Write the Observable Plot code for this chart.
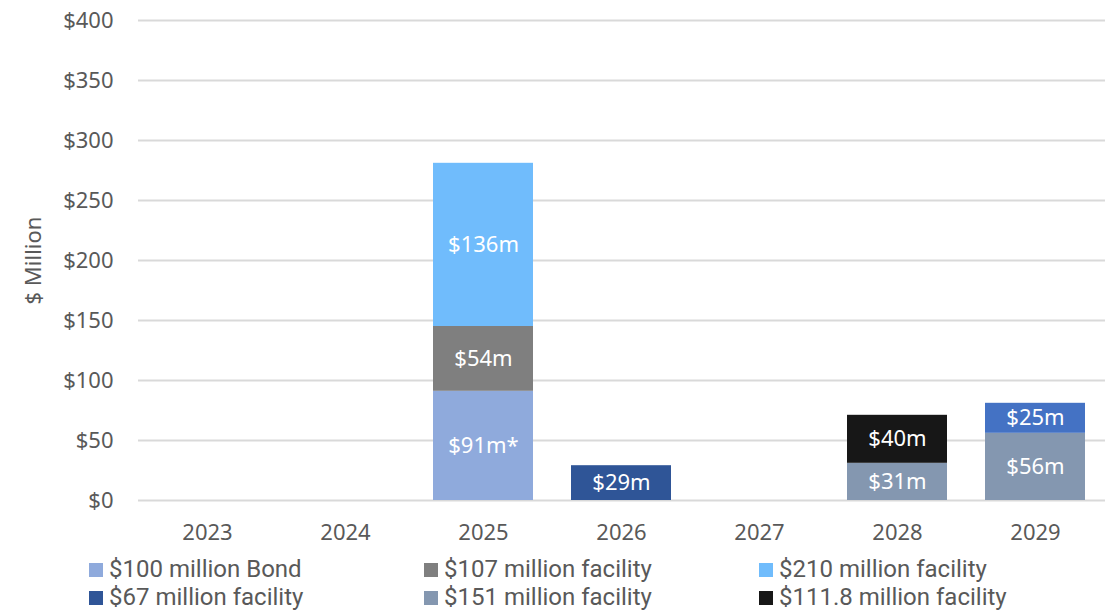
<!DOCTYPE html>
<html>
<head>
<meta charset="utf-8">
<script src="https://cdn.jsdelivr.net/npm/d3@7"></script>
<script src="https://cdn.jsdelivr.net/npm/@observablehq/plot@0.6"></script>
<style>
  html, body { margin: 0; padding: 0; background: #fff; }
  body { width: 1115px; height: 610px; overflow: hidden; font-family: "Noto Sans", sans-serif; }
  #chart svg { display: block; }
  #legend { position: relative; height: 60px; font-family: Roboto, "Noto Sans", sans-serif; font-size: 24px; color: #595959; }
  .li { position: absolute; display: flex; align-items: center; white-space: nowrap; height: 27px; line-height: 27px; }
  .sw { width: 14px; height: 14px; margin-right: 6px; flex: none; }
</style>
</head>
<body>
<div id="chart"></div>
<div id="legend"></div>
<script>
const years = ["2023", "2024", "2025", "2026", "2027", "2028", "2029"];
const seriesNames = ["$100 million Bond", "$107 million facility", "$210 million facility", "$67 million facility", "$151 million facility", "$111.8 million facility", "Other facility"];
const seriesColors = ["#8FAADC", "#7F7F7F", "#70BCFC", "#2F5597", "#8497B0", "#171717", "#4472C4"];
const legendSeries = seriesNames.slice(0, 6);

const segYear   = ["2025", "2025", "2025", "2026", "2028", "2028", "2029", "2029"];
const segSeries = ["$100 million Bond", "$107 million facility", "$210 million facility", "$67 million facility", "$151 million facility", "$111.8 million facility", "$151 million facility", "Other facility"];
const segValue  = [91, 54, 136, 29, 31, 40, 56, 25];
const segLabel  = ["$91m*", "$54m", "$136m", "$29m", "$31m", "$40m", "$56m", "$25m"];
const yTicks = [0, 50, 100, 150, 200, 250, 300, 350, 400];

const data = segYear.map((y, i) => ({year: y, series: segSeries[i], value: segValue[i], label: segLabel[i]}));

const chart = Plot.plot({
  width: 1115,
  height: 550,
  marginLeft: 138,
  marginRight: 10,
  marginTop: 20,
  marginBottom: 50,
  style: {fontFamily: "Noto Sans, sans-serif", color: "#595959", background: "#fff"},
  x: {domain: years, paddingInner: 0.275, paddingOuter: 0.1375},
  y: {domain: [0, 400]},
  color: {domain: seriesNames, range: seriesColors},
  marks: [
    Plot.ruleY(yTicks, {stroke: "#D9D9D9", strokeWidth: 2}),
    Plot.axisY(yTicks, {tickFormat: d => "$" + d, label: null, tickSize: 0, tickPadding: 25, fontSize: 22, fill: "#595959"}),
    Plot.axisX(years, {label: null, tickSize: 0, tickPadding: 24, fontSize: 22, fill: "#595959"}),
    Plot.barY(data, {x: "year", y: "value", fill: "series", order: null}),
    Plot.text(data, Plot.stackY({x: "year", y: "value", text: "label", fill: "white", fontSize: 22, order: null})),
    Plot.text(["$ Million"], {frameAnchor: "left", dx: -105, rotate: -90, textAnchor: "middle", fill: "#595959", fontSize: 22, y: () => 200})
  ]
});
document.getElementById("chart").appendChild(chart);

const legend = document.getElementById("legend");
const cols = [89, 424, 759];
legendSeries.forEach((name, i) => {
  const el = document.createElement("div");
  el.className = "li";
  el.style.left = cols[i % 3] + "px";
  el.style.top = (Math.floor(i / 3) * 28 + 6) + "px";
  const sw = document.createElement("span");
  sw.className = "sw";
  sw.style.background = seriesColors[seriesNames.indexOf(name)];
  const tx = document.createElement("span");
  tx.textContent = name;
  el.appendChild(sw);
  el.appendChild(tx);
  legend.appendChild(el);
});
</script>
</body>
</html>
